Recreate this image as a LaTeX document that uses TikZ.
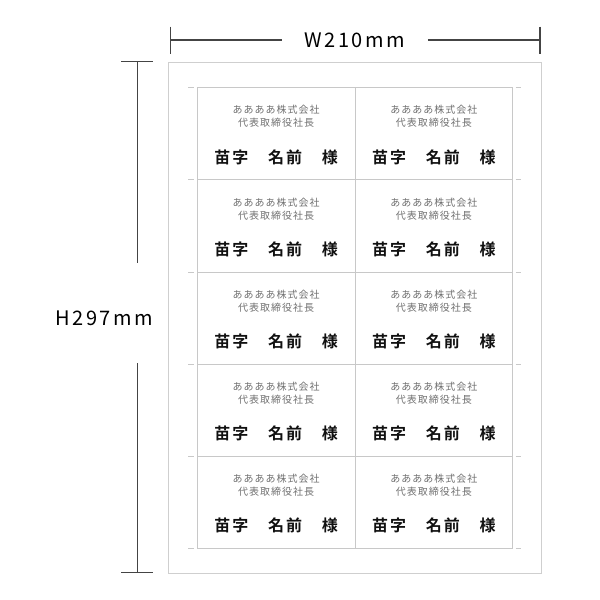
\documentclass[tikz,border=0pt]{standalone}
\usepackage{fontspec}
\usetikzlibrary{calc}
\newfontfamily\dimfont[LetterSpace=12]{Noto Sans CJK JP}
\newfontfamily\smallfont[LetterSpace=10]{Noto Sans CJK JP}
\newfontfamily\namefont[LetterSpace=12]{Noto Sans CJK JP Bold}
\definecolor{dimline}{HTML}{444444}
\definecolor{paperline}{HTML}{CFCFCF}
\definecolor{cardline}{HTML}{C8C8C8}
\definecolor{smalltext}{HTML}{707070}
\definecolor{nametext}{HTML}{111111}
\tikzset{
  dimln/.style={draw=dimline, line width=1.1pt},
  dimlabel/.style={inner sep=0pt, text=black, font=\dimfont\fontsize{20}{24}\selectfont},
  paperbox/.style={draw=paperline, line width=1pt, inner sep=0pt, minimum width=373.5pt, minimum height=511pt},
  cardbox/.style={draw=cardline, line width=1pt, inner sep=0pt, minimum width=157.7pt, minimum height=92.16pt},
  cropmark/.style={draw=cardline, line width=0.9pt},
  compline/.style={inner sep=0pt, text=smalltext, font=\smallfont\fontsize{10}{12}\selectfont},
  nameline/.style={inner sep=0pt, text=nametext, font=\namefont\fontsize{16}{19}\selectfont},
}
\begin{document}
\begin{tikzpicture}[x=1pt, y=-1pt]
\useasboundingbox (0,0) rectangle (600,600);
% width dimension
\coordinate (wl) at (170.7,40);
\coordinate (wr) at (540,40);
\node[dimlabel, minimum width=146pt] (wlab) at (354.7,40) {W210mm};
\draw[dimln] (wl) -- (wlab);
\draw[dimln] (wlab) -- (wr);
\draw[dimln] ([yshift=13.5pt]wl) -- ([yshift=-13.5pt]wl);
\draw[dimln] ([yshift=13.5pt]wr) -- ([yshift=-13.5pt]wr);
% height dimension
\node[dimlabel] (hlab) at (104.2,318.5) {H297mm};
\coordinate (ht) at (137.3,61.5);
\coordinate (hg1) at (137.3,263);
\coordinate (hg2) at (137.3,363);
\coordinate (hb) at (137.3,572.8);
\draw[dimln] (ht) -- (hg1);
\draw[dimln] (hg2) -- (hb);
\draw[dimln] ([xshift=-16pt]ht) -- ([xshift=16pt]ht);
\draw[dimln] ([xshift=-16pt]hb) -- ([xshift=16pt]hb);
% paper
\node[paperbox] (paper) at (354.75,317.5) {};
% cards
\foreach \r in {0,...,4} {
  \foreach \c/\cx in {0/276.2, 1/433.9} {
    \node[cardbox] (card-\r-\c) at (\cx, {133.78+92.16*\r}) {};
    \node[compline] (co-\r-\c) at ($(card-\r-\c.north)+(0,23)$) {ああああ株式会社};
    \node[compline] (ti-\r-\c) at ($(card-\r-\c.north)+(0,36)$) {代表取締役社長};
    \node[nameline] (nm-\r-\c) at ($(card-\r-\c.north)+(0,70)$) {苗字　名前　様};
  }
}
% crop marks
\foreach \r in {0,...,5} {
  \coordinate (cl-\r) at (197.3,{87.7+92.16*\r});
  \coordinate (cr-\r) at (512.7,{87.7+92.16*\r});
  \draw[cropmark] ([xshift=-9.3pt]cl-\r) -- ([xshift=-3.3pt]cl-\r);
  \draw[cropmark] ([xshift=2.8pt]cr-\r) -- ([xshift=8.3pt]cr-\r);
}
\draw[cropmark] ([yshift=-9.2pt]cl-0) -- ([yshift=-3.2pt]cl-0);
\draw[cropmark] ([yshift=-9.2pt]cr-0) -- ([yshift=-3.2pt]cr-0);
\draw[cropmark] ([yshift=3pt]cl-5) -- ([yshift=8.5pt]cl-5);
\draw[cropmark] ([yshift=3pt]cr-5) -- ([yshift=8.5pt]cr-5);
\end{tikzpicture}
\end{document}
